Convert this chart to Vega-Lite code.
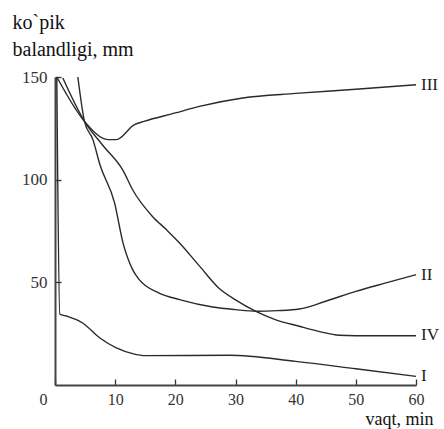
{
  "$schema": "https://vega.github.io/schema/vega-lite/v6.json",
  "autosize": "none",
  "width": 361,
  "height": 308,
  "padding": {"left": 55, "top": 77, "right": 28, "bottom": 44},
  "background": "white",
  "config": {"view": {"stroke": null}},
  "datasets": {
    "curves": [
      {"curve": "I", "t": 0.3, "h": 150},
      {"curve": "I", "t": 0.8, "h": 34.5},
      {"curve": "I", "t": 2, "h": 33.5},
      {"curve": "I", "t": 4.6, "h": 30.2},
      {"curve": "I", "t": 7.4, "h": 23},
      {"curve": "I", "t": 10.2, "h": 18.1},
      {"curve": "I", "t": 12.9, "h": 15.3},
      {"curve": "I", "t": 15.1, "h": 14.3},
      {"curve": "I", "t": 29, "h": 14.5},
      {"curve": "I", "t": 40, "h": 11.5},
      {"curve": "I", "t": 50, "h": 7.9},
      {"curve": "I", "t": 60, "h": 4.2},
      {"curve": "II", "t": 3.8, "h": 150},
      {"curve": "II", "t": 4.9, "h": 128.4},
      {"curve": "II", "t": 6.3, "h": 119.5},
      {"curve": "II", "t": 7.5, "h": 107},
      {"curve": "II", "t": 9.9, "h": 88.7},
      {"curve": "II", "t": 11.3, "h": 69.2},
      {"curve": "II", "t": 12.9, "h": 56.2},
      {"curve": "II", "t": 14, "h": 51.3},
      {"curve": "II", "t": 17.3, "h": 44.8},
      {"curve": "II", "t": 20.7, "h": 41.6},
      {"curve": "II", "t": 26.2, "h": 38},
      {"curve": "II", "t": 30, "h": 36.7},
      {"curve": "II", "t": 33.4, "h": 35.9},
      {"curve": "II", "t": 37, "h": 36.2},
      {"curve": "II", "t": 40.6, "h": 37},
      {"curve": "II", "t": 45, "h": 40.8},
      {"curve": "II", "t": 50, "h": 45.6},
      {"curve": "II", "t": 55, "h": 49.7},
      {"curve": "II", "t": 60, "h": 53.7},
      {"curve": "III", "t": 0.3, "h": 150},
      {"curve": "III", "t": 4.9, "h": 128.4},
      {"curve": "III", "t": 8.8, "h": 119.5},
      {"curve": "III", "t": 10.2, "h": 119.5},
      {"curve": "III", "t": 13.2, "h": 126.8},
      {"curve": "III", "t": 14.8, "h": 128.4},
      {"curve": "III", "t": 20, "h": 132.5},
      {"curve": "III", "t": 24, "h": 135.7},
      {"curve": "III", "t": 31.2, "h": 139.8},
      {"curve": "III", "t": 40, "h": 142},
      {"curve": "III", "t": 50, "h": 144},
      {"curve": "III", "t": 60, "h": 146.2},
      {"curve": "IV", "t": 1.3, "h": 149.5},
      {"curve": "IV", "t": 4.9, "h": 128.4},
      {"curve": "IV", "t": 8, "h": 116.5},
      {"curve": "IV", "t": 11.3, "h": 104.5},
      {"curve": "IV", "t": 12.9, "h": 95.1},
      {"curve": "IV", "t": 16.2, "h": 82.1},
      {"curve": "IV", "t": 18.5, "h": 75.7},
      {"curve": "IV", "t": 20.7, "h": 69.2},
      {"curve": "IV", "t": 24, "h": 58},
      {"curve": "IV", "t": 27.3, "h": 47},
      {"curve": "IV", "t": 30, "h": 41.5},
      {"curve": "IV", "t": 33.4, "h": 35.9},
      {"curve": "IV", "t": 36.5, "h": 32},
      {"curve": "IV", "t": 40.6, "h": 28.6},
      {"curve": "IV", "t": 44, "h": 26},
      {"curve": "IV", "t": 47.2, "h": 24.2},
      {"curve": "IV", "t": 50, "h": 24},
      {"curve": "IV", "t": 60, "h": 24}
    ],
    "labels": [
      {"curve": "I", "t": 60, "h": 4.2},
      {"curve": "II", "t": 60, "h": 53.5},
      {"curve": "III", "t": 60, "h": 146.2},
      {"curve": "IV", "t": 60, "h": 24.3}
    ]
  },
  "layer": [
    {
      "data": {"name": "curves"},
      "mark": {"type": "line", "interpolate": "monotone", "color": "#2a2a2a", "strokeWidth": 1.4},
      "encoding": {
        "x": {
          "field": "t", "type": "quantitative",
          "scale": {"domain": [0, 60], "nice": false},
          "axis": {
            "values": [0, 10, 20, 30, 40, 50, 60],
            "grid": false,
            "title": "vaqt, min",
            "titleX": 310, "titleY": 39,
            "titleAlign": "left", "titleBaseline": "alphabetic",
            "titleFont": "Liberation Serif", "titleFontSize": 18, "titleFontWeight": "normal", "titleColor": "#111111",
            "labelFont": "Liberation Serif", "labelFontSize": 16, "labelColor": "#333333",
            "labelPadding": 12, "labelFlush": false,
            "labelOffset": {"condition": {"test": "datum.value === 0", "value": -12}, "value": 0},
            "tickSize": -6, "tickColor": "#333333", "tickWidth": 1.3,
            "domainColor": "#444444", "domainWidth": 2
          }
        },
        "y": {
          "field": "h", "type": "quantitative",
          "scale": {"domain": [0, 150], "nice": false},
          "axis": {
            "values": [50, 100, 150],
            "grid": false,
            "title": ["ko`pik", "balandligi, mm"],
            "titleAngle": 0, "titleX": -43, "titleY": -49,
            "titleAlign": "left", "titleBaseline": "alphabetic", "titleLineHeight": 27,
            "titleFont": "Liberation Serif", "titleFontSize": 20, "titleFontWeight": "normal", "titleColor": "#111111",
            "labelFont": "Liberation Serif", "labelFontSize": 17, "labelColor": "#333333",
            "labelPadding": 14,
            "tickSize": -6, "tickColor": "#333333", "tickWidth": 1.3,
            "domainColor": "#444444", "domainWidth": 2
          }
        },
        "detail": {"field": "curve"}
      }
    },
    {
      "data": {"name": "labels"},
      "mark": {"type": "text", "align": "left", "baseline": "middle", "dx": 5, "font": "Liberation Serif", "fontSize": 17, "color": "#222222"},
      "encoding": {
        "x": {"field": "t", "type": "quantitative"},
        "y": {"field": "h", "type": "quantitative"},
        "text": {"field": "curve"}
      }
    }
  ]
}
